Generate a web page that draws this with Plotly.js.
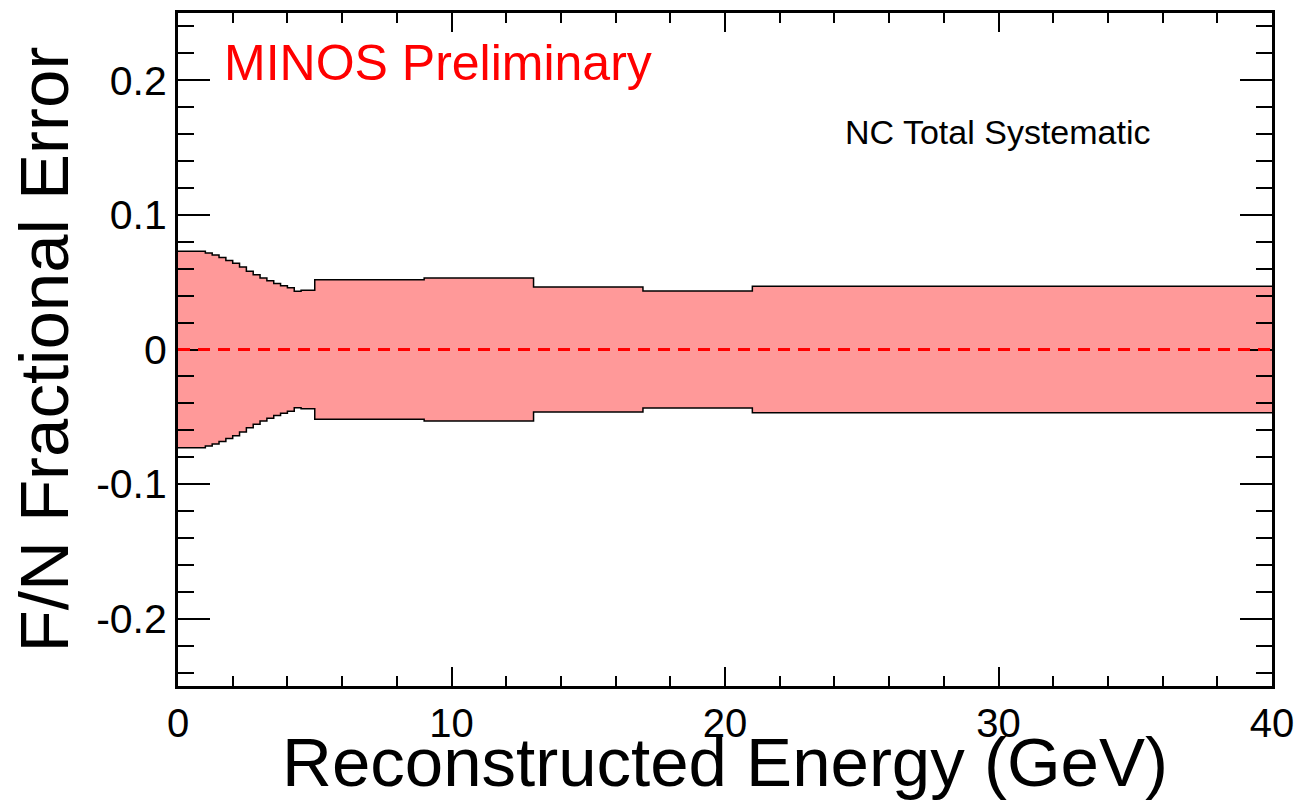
<!DOCTYPE html>
<html>
<head>
<meta charset="utf-8">
<script src="https://cdn.plot.ly/plotly-3.0.1.min.js"></script>
<style>
  html, body { margin: 0; padding: 0; background: #ffffff; }
  #chart { width: 1296px; height: 801px; }
</style>
</head>
<body>
<div id="chart"></div>
<script>
// Bin edges of reconstructed energy (GeV)
const binEdges = [0, 0.25, 0.5, 0.75, 1.0, 1.25, 1.5, 1.75, 2.0, 2.25, 2.5, 2.75,
                  3.0, 3.25, 3.5, 3.75, 4.0, 4.25, 4.5, 4.75, 5.0, 9, 13, 17, 21, 40];
// Total NC systematic fractional error on the Far/Near ratio, one value per bin
const fracError = [0.073, 0.073, 0.073, 0.073, 0.0717, 0.0702, 0.0683, 0.0662,
                   0.0640, 0.0612, 0.0582, 0.0556, 0.0532, 0.0510, 0.0490, 0.0474,
                   0.0458, 0.0433, 0.0441, 0.0441, 0.0519, 0.0531, 0.0464, 0.0434, 0.0470];
// tick labels (y uses a plain hyphen for the minus sign)
const yTickVals = [-0.2, -0.1, 0, 0.1, 0.2];
const yTickText = ['-0.2', '-0.1', '0', '0.1', '0.2'];
const xTickVals = [0, 10, 20, 30, 40];
const xTickText = ['0', '10', '20', '30', '40'];

const FONT = 'Liberation Sans, Arial, Helvetica, sans-serif';

// step histogram: repeat the last value at the final edge so 'hv' closes the bin
const upperY = fracError.concat([fracError[fracError.length - 1]]);
const lowerY = upperY.map(v => -v);

const lowerTrace = {
  x: binEdges, y: lowerY, type: 'scatter', mode: 'lines',
  line: {shape: 'hv', color: '#000000', width: 1.5},
  hoverinfo: 'skip', showlegend: false
};
const upperTrace = {
  x: binEdges, y: upperY, type: 'scatter', mode: 'lines',
  line: {shape: 'hv', color: '#000000', width: 1.5},
  fill: 'tonexty', fillcolor: 'rgb(255,153,153)',
  hoverinfo: 'skip', showlegend: false
};

const layout = {
  width: 1296, height: 801,
  margin: {l: 178, r: 24, t: 13, b: 115, pad: 0},
  paper_bgcolor: '#ffffff', plot_bgcolor: '#ffffff',
  font: {family: FONT, color: '#000000'},
  xaxis: {
    range: [0, 40],
    tickmode: 'array', tickvals: xTickVals, ticktext: xTickText,
    ticks: 'inside', ticklen: 19, tickwidth: 2, tickcolor: '#000000',
    minor: {tickmode: 'linear', tick0: 0, dtick: 2, ticks: 'inside', ticklen: 10, tickwidth: 2, tickcolor: '#000000'},
    showline: true, linewidth: 3, linecolor: '#000000', mirror: 'allticks',
    showgrid: false, zeroline: false,
    tickfont: {family: FONT, size: 40, color: '#000000'},
    title: {text: 'Reconstructed Energy (GeV)', font: {family: FONT, size: 69, color: '#000000'}, standoff: 0}
  },
  yaxis: {
    range: [-0.25, 0.25],
    tickmode: 'array', tickvals: yTickVals, ticktext: yTickText,
    ticks: 'inside', ticklen: 32, tickwidth: 2, tickcolor: '#000000',
    minor: {tickmode: 'linear', tick0: 0, dtick: 0.02, ticks: 'inside', ticklen: 16, tickwidth: 2, tickcolor: '#000000'},
    showline: true, linewidth: 3, linecolor: '#000000', mirror: 'allticks',
    showgrid: false, zeroline: false,
    tickfont: {family: FONT, size: 41, color: '#000000'},
    title: {text: 'F/N Fractional Error', font: {family: FONT, size: 69, color: '#000000'}, standoff: 5}
  },
  shapes: [{
    type: 'line', xref: 'x', yref: 'y', x0: 0, x1: 40, y0: 0, y1: 0,
    line: {color: '#ff0000', width: 3, dash: '12px,8px'}, layer: 'above'
  }],
  annotations: [
    {text: 'MINOS Preliminary', xref: 'x', yref: 'y', x: 1.62, y: 0.213,
     xanchor: 'left', yanchor: 'middle', showarrow: false,
     font: {family: FONT, size: 50, color: '#ff0000'}},
    {text: 'NC Total Systematic', xref: 'x', yref: 'y', x: 29.95, y: 0.1615,
     xanchor: 'center', yanchor: 'middle', showarrow: false,
     font: {family: FONT, size: 34, color: '#000000'}}
  ]
};

Plotly.newPlot('chart', [lowerTrace, upperTrace], layout, {staticPlot: true, displayModeBar: false});
</script>
</body>
</html>
